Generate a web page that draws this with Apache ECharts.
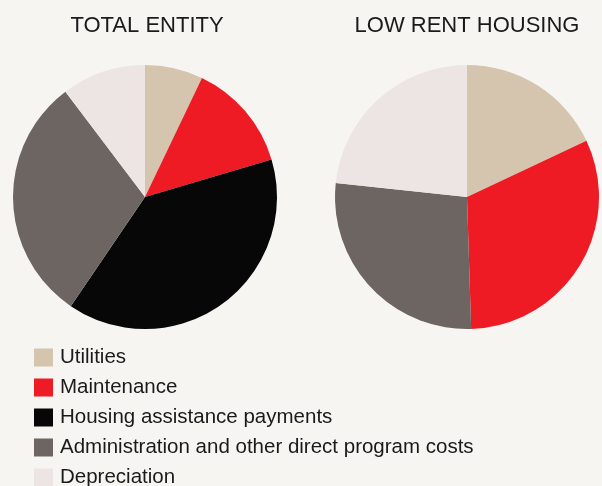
<!DOCTYPE html>
<html>
<head>
<meta charset="utf-8">
<script src="https://cdn.jsdelivr.net/npm/echarts@6/dist/echarts.min.js"></script>
<style>
  html, body { margin: 0; padding: 0; background: #f7f5f2; }
  #main { width: 602px; height: 486px; }
</style>
</head>
<body>
<div id="main"></div>
<script>
// categories and shares (%)
var categories = ['Utilities', 'Maintenance', 'Housing assistance payments',
  'Administration and other direct program costs', 'Depreciation'];
var totalEntity = [7.1, 13.3, 39.1, 30.2, 10.3];
var lowRentHousing = [18.0, 31.5, 0, 27.2, 23.3];
var colors = ['#d5c5ae', '#ee1b24', '#070707', '#6d6562', '#ece5e3'];
var titles = ['TOTAL ENTITY', 'LOW RENT HOUSING'];

function pieData(values) {
  return categories.map(function (name, i) {
    return { name: name, value: values[i] };
  });
}

var myChart = echarts.init(document.getElementById('main'));

function pieSeries(values, cx) {
  return {
    type: 'pie',
    center: [cx, 197],
    radius: 132,
    startAngle: 90,
    clockwise: true,
    silent: true,
    label: { show: false },
    labelLine: { show: false },
    itemStyle: { borderWidth: 0 },
    emphasis: { disabled: true },
    animation: false,
    data: pieData(values)
  };
}

var titleFont = { fontFamily: 'Liberation Sans', fontWeight: 'normal', fontSize: 22, color: '#1a1a1a' };

var option = {
  backgroundColor: '#f7f5f2',
  color: colors,
  title: [
    { text: titles[0], left: 142, top: 10, textAlign: 'center', textStyle: titleFont },
    { text: titles[1], left: 462, top: 10, textAlign: 'center', textStyle: titleFont }
  ],
  legend: {
    orient: 'vertical',
    left: 29,
    top: 342,
    height: 200,
    itemWidth: 19,
    itemHeight: 18,
    itemGap: 9,
    icon: 'rect',
    selectedMode: false,
    data: categories,
    textStyle: { fontFamily: 'Liberation Sans', fontSize: 20.5, color: '#1a1a1a', padding: [0, 0, 0, 2] }
  },
  series: [pieSeries(totalEntity, 145), pieSeries(lowRentHousing, 467)]
};

myChart.setOption(option);
</script>
</body>
</html>
